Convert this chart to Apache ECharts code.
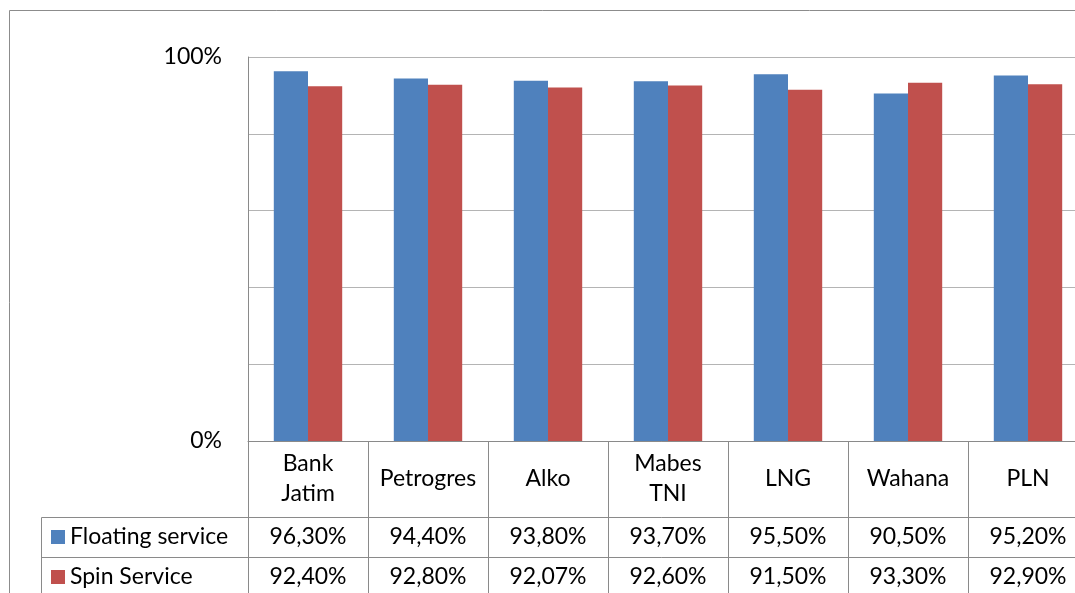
<!DOCTYPE html>
<html>
<head>
<meta charset="utf-8">
<script src="https://cdn.jsdelivr.net/npm/echarts@6/dist/echarts.min.js"></script>
<style>
html,body{margin:0;padding:0;background:#fff;}
#chart{width:1075px;height:593px;}
</style>
</head>
<body>
<div id="chart"></div>
<script>
const categories = ['Bank\nJatim', 'Petrogres', 'Alko', 'Mabes\nTNI', 'LNG', 'Wahana', 'PLN'];
const seriesNames = ['Floating service', 'Spin Service'];
const floatingService = [96.3, 94.4, 93.8, 93.7, 95.5, 90.5, 95.2];
const spinService = [92.4, 92.8, 92.07, 92.6, 91.5, 93.3, 92.9];
const yTickLabels = {0: '0%', 100: '100%'};

const FONT = 'Lato';
const FS = 23;
const LINE = '#8a8a8a';
const GRIDC = '#b4b4b4';
const fmt = v => v.toFixed(2).replace('.', ',') + '%';

const chart = echarts.init(document.getElementById('chart'), null, {renderer: 'canvas'});
const tableAxis = (data, offset) => ({
  type: 'category', data: data, position: 'bottom', offset: offset,
  axisLine: {show: true, lineStyle: {color: LINE, width: 1}},
  axisTick: {show: false},
  axisLabel: {interval: 0, margin: 20, verticalAlign: 'middle', color: '#000', fontFamily: FONT, fontSize: FS},
  splitLine: {show: false}
});
const legendFor = (name, top) => ({
  orient: 'vertical', left: 51, top: top, padding: 0,
  itemWidth: 14, itemHeight: 14, icon: 'rect', itemGap: 0,
  textStyle: {color: '#000', fontFamily: FONT, fontSize: FS, lineHeight: 24, padding: [0, 0, 0, 0]},
  data: [name]
});
chart.setOption({
  animation: false,
  backgroundColor: '#fff',
  textStyle: {fontFamily: FONT},
  grid: {left: 248, top: 57, right: -13, height: 384, containLabel: false, outerBoundsMode: 'none'},
  legend: [legendFor(seriesNames[0], 525), legendFor(seriesNames[1], 565)],
  xAxis: [
    {
      type: 'category', data: categories, position: 'bottom',
      axisLine: {show: true, lineStyle: {color: LINE, width: 1}},
      axisTick: {show: true, interval: 0, length: 170, lineStyle: {color: LINE, width: 1}},
      axisLabel: {interval: 0, margin: 38, verticalAlign: 'middle', color: '#000', fontFamily: FONT, fontSize: FS, lineHeight: 30}
    },
    tableAxis(floatingService.map(fmt), 76),
    tableAxis(spinService.map(fmt), 116)
  ],
  yAxis: {
    type: 'value', min: 0, max: 100, interval: 20,
    axisLine: {show: true, lineStyle: {color: LINE, width: 1}},
    axisTick: {show: false},
    splitLine: {show: true, lineStyle: {color: GRIDC, width: 1}},
    axisLabel: {margin: 26, color: '#000', fontFamily: FONT, fontSize: FS,
      formatter: v => yTickLabels[v] || ''}
  },
  series: [
    {name: seriesNames[0], type: 'bar', data: floatingService, barGap: '0%', barCategoryGap: '43%',
     itemStyle: {color: '#4F81BD'}},
    {name: seriesNames[1], type: 'bar', data: spinService, barGap: '0%', barCategoryGap: '43%',
     itemStyle: {color: '#C0504D'}}
  ],
  graphic: [
    {type: 'rect', silent: true, shape: {x: 9.5, y: 10.5, width: 1200, height: 700},
     style: {fill: 'none', stroke: '#8c8c8c', lineWidth: 1}},
    {type: 'line', silent: true, shape: {x1: 41.5, y1: 517.5, x2: 248, y2: 517.5}, style: {stroke: LINE, lineWidth: 1}},
    {type: 'line', silent: true, shape: {x1: 41.5, y1: 557.5, x2: 248, y2: 557.5}, style: {stroke: LINE, lineWidth: 1}},
    {type: 'line', silent: true, shape: {x1: 41.5, y1: 517.5, x2: 41.5, y2: 600}, style: {stroke: LINE, lineWidth: 1}}
  ]
});
</script>
</body>
</html>
